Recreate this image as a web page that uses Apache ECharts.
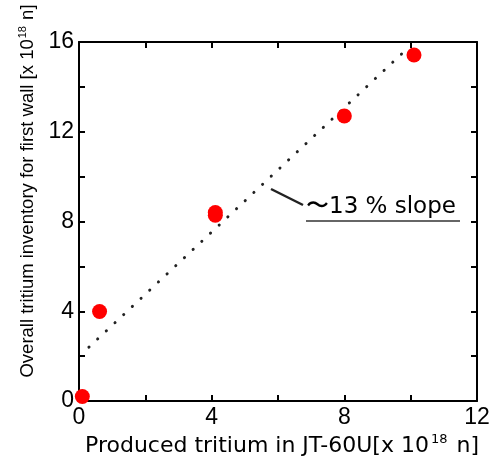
<!DOCTYPE html>
<html><head><meta charset="utf-8">
<script src="https://cdn.jsdelivr.net/npm/echarts@6/dist/echarts.min.js"></script>
<style>html,body{margin:0;padding:0;background:#fff}#c{width:497px;height:461px}</style>
</head><body><div id="c"></div>
<script>
const xTicks = [0, 4, 8, 12];
const yTicks = [0, 4, 8, 12, 16];
const producedX = [0.1, 0.62, 4.11, 4.11, 8.0, 10.1];
const inventoryY = [0.2, 3.99, 8.28, 8.4, 12.7, 15.42];
const fitX = [0.3, 9.75];
const fitY = [2.4, 15.5];
const slopeLabel = '〜13 % slope';

const FONT = 'Liberation Sans, Arial, sans-serif';
const WIDE = 'DejaVu Sans, sans-serif';
const chart = echarts.init(document.getElementById('c'));
const axisCommon = (show) => ({
  type: 'value', min: 0, interval: 2,
  axisLine: {show: true, onZero: false, lineStyle: {color: '#000', width: 2}},
  axisTick: {show: true, inside: true, length: 6, lineStyle: {color: '#000', width: 2}},
  splitLine: {show: false},
  axisLabel: {show: show, color: '#000', fontSize: 23, fontFamily: FONT, margin: 5,
    formatter: v => (xTicks.concat(yTicks).indexOf(v) >= 0 ? String(v) : '')}
});
chart.setOption({
  animation: false,
  grid: {left: 79, top: 42, right: 20, bottom: 60},
  xAxis: [
    Object.assign(axisCommon(true), {max: 12, position: 'bottom'}),
    Object.assign(axisCommon(false), {max: 12, position: 'top'})
  ],
  yAxis: [
    Object.assign(axisCommon(true), {max: 16, position: 'left'}),
    Object.assign(axisCommon(false), {max: 16, position: 'right'})
  ],
  series: [
    {type: 'line', data: fitX.map((x, i) => [x, fitY[i]]), symbol: 'none',
     lineStyle: {color: '#222', width: 3, type: [0.1, 11.8], cap: 'round'}, z: 3},
    {type: 'scatter', data: producedX.map((x, i) => [x, inventoryY[i]]),
     symbolSize: 15, itemStyle: {color: '#ff0000', opacity: 1}, z: 5, clip: false}
  ],
  graphic: [
    {type: 'line', shape: {x1: 271, y1: 189, x2: 303, y2: 205}, style: {stroke: '#222', lineWidth: 2.5}},
    {type: 'text', left: 306, top: 196, style: {text: slopeLabel, fontSize: 23, fontFamily: WIDE, fill: '#000'}},
    {type: 'line', shape: {x1: 306, y1: 221, x2: 460, y2: 221}, style: {stroke: '#333', lineWidth: 1.5}},
    {type: 'text', x: 282, y: 446, style: {
      text: '{a|Produced tritium in JT-60U[x 10}{s|18}{a| n]}', align: 'center', verticalAlign: 'middle',
      rich: {a: {fontSize: 22, fontFamily: WIDE, color: '#000'},
             s: {fontSize: 13, fontFamily: WIDE, color: '#000', padding: [0, 2, 12, 2]}}}},
    {type: 'text', x: 28, y: 191, rotation: Math.PI / 2, style: {
      text: '{a|Overall tritium inventory for first wall [x 10}{s|18}{a| n]}', align: 'center', verticalAlign: 'middle',
      rich: {a: {fontSize: 18.5, fontFamily: FONT, color: '#000'},
             s: {fontSize: 11, fontFamily: FONT, color: '#000', padding: [0, 1, 10, 1]}}}}
  ]
});
</script></body></html>
